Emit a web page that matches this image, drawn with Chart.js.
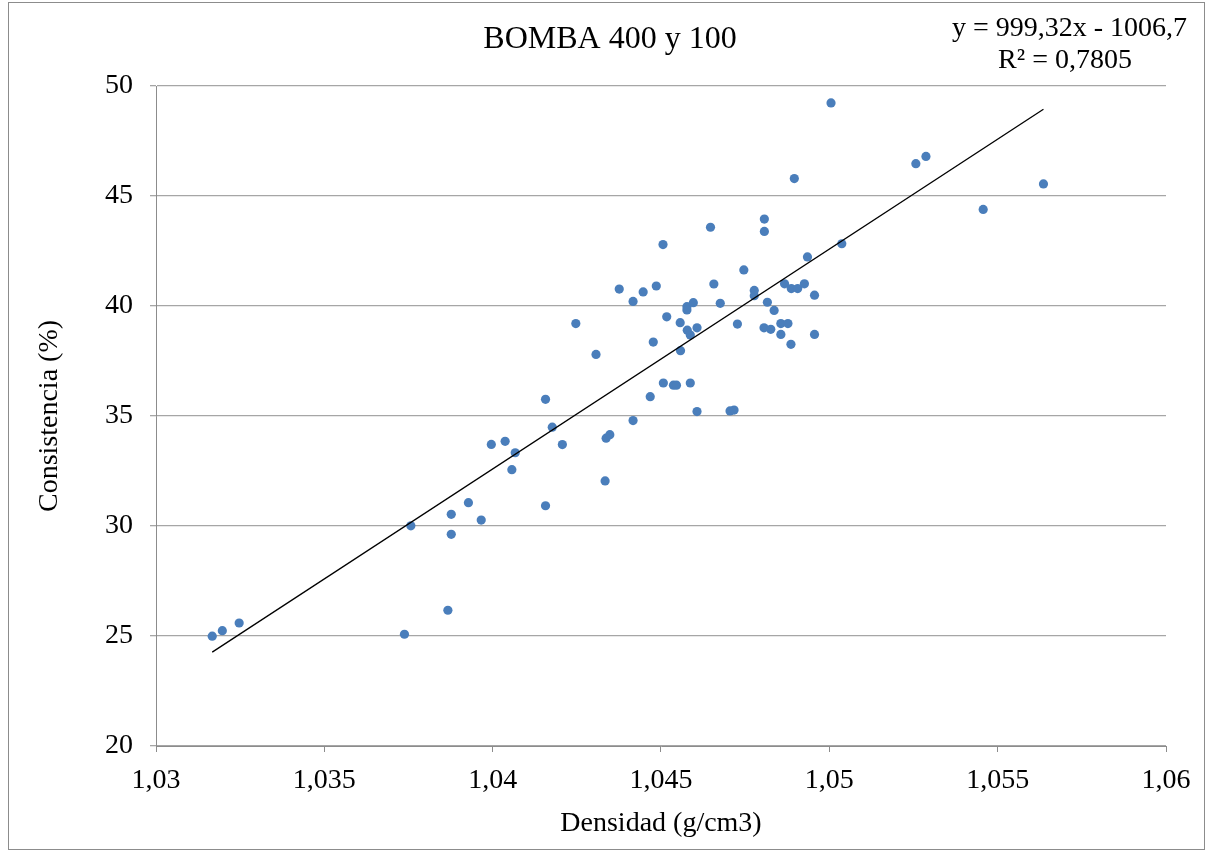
<!DOCTYPE html>
<html>
<head>
<meta charset="utf-8">
<script src="https://cdn.jsdelivr.net/npm/chart.js@4"></script>
<style>
html,body{margin:0;padding:0;background:#fff;}
#wrap{position:relative;width:1212px;height:854px;}
</style>
</head>
<body>
<div id="wrap"><canvas id="c" width="1212" height="854"></canvas></div>
<script>
const densidad = [1.03167,1.03197,1.03247,1.03738,1.03757,1.03867,1.03877,1.03877,1.03928,1.03966,
1.03996,1.04037,1.04067,1.04057,1.04157,1.04157,1.04177,1.04207,1.04247,1.04307,
1.04337,1.04348,1.04334,1.04376,1.04417,1.04417,1.04447,1.04486,1.04506,1.04477,
1.04468,1.04507,1.04517,1.04537,1.04546,1.04557,1.04558,1.04577,1.04577,1.04578,
1.04587,1.04587,1.04596,1.04607,1.04607,1.04647,1.04657,1.04676,1.04705,1.04717,
1.04727,1.04746,1.04777,1.04777,1.04807,1.04807,1.04806,1.04816,1.04826,1.04836,
1.04856,1.04856,1.04867,1.04877,1.04886,1.04887,1.04896,1.04906,1.04926,1.04935,
1.04956,1.04956,1.05005,1.05037,1.05257,1.05287,1.05457,1.05636];
const consistencia = [24.99,25.24,25.59,25.08,30.01,26.17,30.53,29.62,31.06,30.27,
33.71,33.85,33.33,32.56,30.92,35.76,34.49,33.70,39.20,37.80,
33.99,34.15,32.05,40.77,40.21,34.79,40.64,40.91,42.79,38.36,
35.88,36.50,39.51,36.40,36.40,39.24,37.97,39.97,39.82,38.90,
38.68,36.50,40.15,39.01,35.20,43.58,41.00,40.12,35.23,35.27,
39.18,41.64,40.71,40.47,43.95,43.39,39.01,40.17,38.94,39.80,
39.20,38.71,41.01,39.20,38.26,40.79,45.79,40.79,41.01,42.23,
40.49,38.71,49.23,42.83,46.47,46.80,44.39,45.55];
const xTicks = [1.03,1.035,1.04,1.045,1.05,1.055,1.06];
const yTicks = [20,25,30,35,40,45,50];
const trendSlope = 999.32;
const trendIntercept = -1006.7;
const chartTitle = 'BOMBA 400 y 100';
const equationLabel = 'y = 999,32x - 1006,7';
const r2Label = 'R² = 0,7805';
const xTitle = 'Densidad (g/cm3)';
const yTitle = 'Consistencia (%)';

const points = densidad.map((x,i)=>({x:x,y:consistencia[i]}));
const xMin = Math.min(...densidad), xMax = Math.max(...densidad);
const trend = [{x:xMin,y:trendSlope*xMin+trendIntercept},{x:xMax,y:trendSlope*xMax+trendIntercept}];

const FONT = "'Liberation Serif','Times New Roman',serif";
const fmt = v => String(Math.round(v*1000)/1000).replace('.', ',');

const deco = {
  id:'deco',
  beforeDraw(chart){
    const ctx = chart.ctx;
    ctx.save();
    ctx.fillStyle='#fff';
    ctx.fillRect(0,0,chart.width,chart.height);
    ctx.restore();
  },
  afterDraw(chart){
    const ctx = chart.ctx;
    ctx.save();
    ctx.strokeStyle='#8c8c8c';
    ctx.lineWidth=1;
    ctx.strokeRect(8.5,2.5,1196,847);
    ctx.fillStyle='#000';
    ctx.textBaseline='middle';
    ctx.font = "32px "+FONT;
    ctx.textAlign='center';
    ctx.fillText(chartTitle, 610, 40);
    ctx.font = "28px "+FONT;
    ctx.textAlign='right';
    ctx.fillText(equationLabel, 1187, 29);
    ctx.textAlign='center';
    ctx.fillText(r2Label, 1065, 61);
    ctx.restore();
  }
};

new Chart(document.getElementById('c'),{
  type:'scatter',
  data:{datasets:[
    {label:'Consistencia',data:points,backgroundColor:'#4a7ebb',borderColor:'#4a7ebb',borderWidth:0,pointRadius:4.6,pointHoverRadius:4.6,order:2},
    {label:'Lineal',data:trend,showLine:true,borderColor:'#000',borderWidth:1.3,pointRadius:0,fill:false,order:1}
  ]},
  plugins:[deco],
  options:{
    responsive:false,
    animation:false,
    events:[],
    layout:{padding:{top:86,right:46,left:0,bottom:0}},
    plugins:{legend:{display:false},tooltip:{enabled:false},title:{display:false}},
    scales:{
      x:{
        type:'linear',min:1.03,max:1.06,
        afterBuildTicks(s){ s.ticks = xTicks.map(v=>({value:v})); },
        afterFit(s){ s.height = 108; },
        ticks:{callback:v=>fmt(v),color:'#000',font:{family:FONT,size:28},padding:12,maxRotation:0,autoSkip:false},
        grid:{drawOnChartArea:false,drawTicks:true,tickLength:6,color:'#8c8c8c'},
        border:{display:true,color:'#8c8c8c'},
        title:{display:true,text:xTitle,color:'#000',font:{family:FONT,size:28},padding:{top:0,bottom:14}}
      },
      y:{
        type:'linear',min:20,max:50,
        afterBuildTicks(s){ s.ticks = yTicks.map(v=>({value:v})); },
        afterFit(s){ s.width = 156; },
        ticks:{callback:v=>String(v),color:'#000',font:{family:FONT,size:28},padding:17},
        grid:{drawOnChartArea:true,drawTicks:true,tickLength:6,color:'#a6a6a6',lineWidth:1.3},
        border:{display:true,color:'#8c8c8c'},
        title:{display:true,text:yTitle,color:'#000',font:{family:FONT,size:28},padding:{top:33,bottom:0}}
      }
    }
  }
});
</script>
</body>
</html>
